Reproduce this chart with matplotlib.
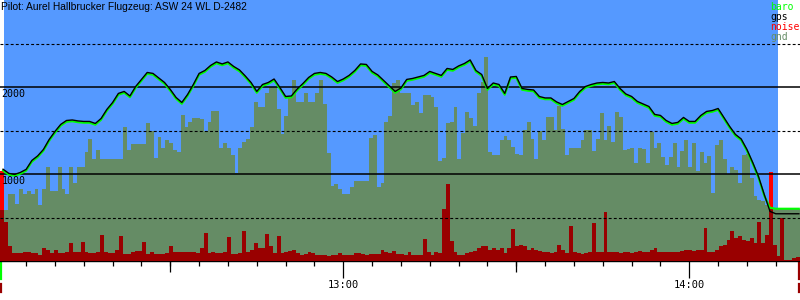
import numpy as np
import matplotlib
matplotlib.use("Agg")
import matplotlib.pyplot as plt
import matplotlib.ticker as mticker
from matplotlib.lines import Line2D

TITLE = "Pilot: Aurel Hallbrucker Flugzeug: ASW 24 WL D-2482"

# all times are minutes after 12:00
T_MIN, T_MAX = 0.47, 139.2
TAKEOFF, LANDING = 1.2, 135.4

# ground elevation and engine-noise level, one value per 40 s (from 12:00:28)
SAMPLE_START = 0.47
SAMPLE_STEP = 40 / 60
gnd = [
    590, 590, 775, 775, 650, 830, 775, 800, 775, 830,
    640, 830, 1083, 800, 800, 1083, 830, 775, 1083, 900,
    1083, 1083, 1250, 1400, 1175, 1279, 1175, 1175, 1175, 1175,
    1175, 1175, 1543, 1279, 1348, 1348, 1348, 1348, 1589, 1500,
    1187, 1428, 1300, 1394, 1360, 1279, 1250, 1681, 1543, 1600,
    1640, 1640, 1635, 1500, 1600, 1727, 1727, 1300, 1360, 1300,
    1220, 1015, 1300, 1370, 1400, 1543, 1830, 1775, 1775, 1935,
    2003, 2000, 1750, 1463, 1670, 1888, 2083, 1830, 1830, 1934,
    1830, 1830, 1934, 2083, 1800, 1244, 860, 888, 831, 773,
    773, 854, 923, 923, 923, 923, 1417, 1450, 854, 900,
    1600, 1670, 2050, 2083, 1934, 1934, 1934, 1796, 1830, 1700,
    1911, 1911, 1888, 1773, 1150, 1187, 1589, 1600, 1773, 1175,
    1474, 1715, 1640, 1550, 1934, 2060, 2350, 1250, 1221, 1221,
    1394, 1440, 1394, 1313, 1233, 1221, 1509, 1600, 1400, 1175,
    1500, 1394, 1658, 1658, 1509, 1784, 1520, 1221, 1302, 1302,
    1302, 1394, 1509, 1509, 1260, 1405, 1700, 1394, 1555, 1371,
    1715, 1658, 1280, 1290, 1302, 1129, 1302, 1290, 1129, 1486,
    1302, 1359, 1200, 1100, 1200, 1360, 1080, 1260, 1394, 1080,
    1359, 1038, 1250, 1130, 1210, 785, 1330, 1394, 1175, 1000,
    1085, 1050, 900, 1221, 1233, 957, 750, 704, 690, 647,
    600, 600, 600, 600, 600, 600, 600, 600, 600,
]
noise = [
    1040, 450, 168, 92, 92, 92, 107, 107, 92, 92,
    72, 155, 130, 92, 130, 92, 92, 107, 207, 107,
    107, 215, 100, 92, 92, 107, 300, 107, 92, 92,
    130, 290, 85, 85, 107, 115, 115, 215, 85, 107,
    85, 80, 80, 92, 172, 107, 100, 107, 100, 107,
    100, 92, 149, 325, 92, 100, 92, 92, 107, 271,
    85, 80, 92, 350, 107, 130, 207, 149, 149, 315,
    172, 92, 290, 92, 100, 110, 130, 92, 72, 80,
    107, 92, 72, 72, 64, 60, 64, 64, 92, 72,
    64, 72, 92, 92, 80, 72, 80, 85, 85, 130,
    107, 92, 110, 85, 80, 72, 107, 72, 72, 72,
    256, 107, 72, 100, 92, 600, 880, 226, 107, 64,
    72, 92, 107, 115, 149, 172, 168, 130, 149, 130,
    149, 92, 149, 372, 168, 186, 168, 130, 149, 130,
    115, 107, 100, 92, 107, 186, 130, 92, 400, 107,
    92, 80, 92, 107, 440, 107, 107, 565, 107, 100,
    100, 92, 107, 100, 92, 107, 115, 107, 107, 130,
    149, 107, 100, 107, 107, 107, 107, 115, 130, 130,
    115, 130, 130, 380, 107, 107, 130, 168, 186, 245,
    341, 264, 283, 245, 226, 264, 207, 452, 207, 302,
    1020, 186, 60, 490, 10, 10, 30, 48, 48,
]

# altitude traces, one value per minute from 12:01
ALT_START = 1.0
ALT_STEP = 1.0
baro = [
    1040, 992, 980, 1003, 1038, 1141, 1193, 1267, 1382, 1474,
    1555, 1600, 1606, 1595, 1589, 1589, 1566, 1623, 1727, 1807,
    1911, 1934, 1882, 1991, 2072, 2152, 2141, 2089, 2037, 1957,
    1865, 1807, 1899, 2014, 2141, 2175, 2233, 2273, 2250, 2273,
    2221, 2181, 2112, 2037, 1934, 2014, 2037, 2077, 1980, 1876,
    1882, 1962, 2025, 2095, 2141, 2152, 2141, 2100, 2048, 2077,
    2118, 2175, 2250, 2244, 2164, 2123, 2060, 1997, 1934, 1974,
    2072, 2083, 2100, 2118, 2164, 2141, 2118, 2198, 2187, 2227,
    2255, 2296, 2175, 2129, 1968, 2031, 2014, 1911, 2100, 2106,
    1968, 1957, 1951, 1876, 1859, 1859, 1813, 1784, 1819, 1853,
    1934, 1991, 2014, 2031, 2037, 2031, 2048, 1968, 1905, 1876,
    1819, 1790, 1761, 1670, 1658, 1600, 1566, 1578, 1635, 1589,
    1589, 1658, 1704, 1715, 1738, 1635, 1532, 1440, 1388, 1267,
    1118, 957, 750, 612, 601, 601, 601, 601, 601,
]
gps = [
    1055, 1007, 995, 1018, 1053, 1156, 1208, 1282, 1397, 1489,
    1570, 1615, 1621, 1610, 1604, 1604, 1581, 1638, 1742, 1822,
    1926, 1949, 1897, 2006, 2087, 2167, 2156, 2104, 2052, 1972,
    1880, 1822, 1914, 2029, 2156, 2190, 2248, 2288, 2265, 2288,
    2236, 2196, 2127, 2052, 1949, 2029, 2052, 2092, 1995, 1891,
    1897, 1977, 2040, 2110, 2156, 2167, 2156, 2115, 2063, 2092,
    2133, 2190, 2265, 2259, 2179, 2138, 2075, 2012, 1949, 1989,
    2087, 2098, 2115, 2133, 2179, 2156, 2133, 2213, 2202, 2242,
    2270, 2311, 2190, 2144, 1983, 2046, 2029, 1926, 2115, 2121,
    1983, 1972, 1966, 1891, 1874, 1874, 1828, 1799, 1834, 1868,
    1949, 2006, 2029, 2046, 2052, 2046, 2063, 1983, 1920, 1891,
    1834, 1805, 1776, 1685, 1673, 1615, 1581, 1593, 1650, 1604,
    1604, 1673, 1719, 1730, 1753, 1650, 1547, 1455, 1403, 1282,
    1133, 972, 765, 570, 543, 543, 543, 543, 543,
]

SOLID_LEVELS = [1000, 2000]
DASHED_LEVELS = [500, 1500, 2500]
HOUR_TICKS = [60, 120]
HOUR_LABELS = ["13:00", "14:00"]
HALF_HOUR_TICKS = [30, 90]

LEGEND = ["baro", "gps", "noise", "gnd"]

SKY = "#5599ff"
GROUND = "#658c65"
NOISE_HI = "#ff0000"
NOISE_LO = "#990000"
BARO = "#00ff00"
LEGEND_COLORS = [BARO, "black", NOISE_HI, GROUND]

MONO = "DejaVu Sans Mono"

# ---------------------------------------------------------------- figure
fig = plt.figure(figsize=(8, 3), dpi=100)
ax = fig.add_axes([0, 0.13, 1, 0.87])
ax.set_xlim(T_MIN, T_MAX)
ax.set_ylim(0, 3000)

ax.axvspan(TAKEOFF, LANDING, color=SKY, lw=0, zorder=0)

gnd_arr = np.array(gnd, dtype=float)
noise_arr = np.array(noise, dtype=float)
edges = SAMPLE_START + SAMPLE_STEP * np.arange(len(gnd) + 1)

# noise sticking out above the ground is bright red, the part inside it dark red
ax.stairs(noise_arr, edges, fill=True, color=NOISE_HI, lw=0, zorder=1)
ax.stairs(gnd_arr, edges, fill=True, color=GROUND, lw=0, zorder=2)
ax.stairs(np.minimum(noise_arr, gnd_arr), edges, fill=True, color=NOISE_LO, lw=0, zorder=3)

for lvl in SOLID_LEVELS:
    ax.axhline(lvl, color="black", lw=1.1, zorder=4)
    ax.annotate(str(lvl), xy=(0, lvl), xycoords=ax.get_yaxis_transform(),
                xytext=(1, -1.5), textcoords="offset points", va="top", ha="left",
                fontsize=7.2, family=MONO, zorder=6)
for lvl in DASHED_LEVELS:
    ax.axhline(lvl, color="black", lw=0.8, linestyle=(0, (2.6, 2.0)), zorder=4)

t_alt = ALT_START + ALT_STEP * np.arange(len(baro))
ax.plot(t_alt, baro, color=BARO, lw=1.5, zorder=5)
ax.plot(t_alt, gps, color="black", lw=1.0, zorder=5)

# x axis: 5 min minor ticks, half hours a bit longer, full hours labelled
for side in ["top", "left", "right"]:
    ax.spines[side].set_visible(False)
ax.spines["bottom"].set_linewidth(1.0)
ax.set_yticks([])
ax.set_xticks(HOUR_TICKS)
ax.set_xticklabels(HOUR_LABELS, family=MONO, fontsize=7.5)
ax.xaxis.set_minor_locator(mticker.MultipleLocator(5))
ax.tick_params(axis="x", which="major", length=12.2, width=0.9, pad=1.5)
ax.tick_params(axis="x", which="minor", length=3.6, width=0.9)

sec = ax.secondary_xaxis("bottom")
sec.set_xticks(HALF_HOUR_TICKS)
sec.set_xticklabels([])
sec.tick_params(axis="x", length=7.9, width=0.9)
sec.spines["bottom"].set_visible(False)

# takeoff / landing markers under the time axis
for x, col, y0, y1 in [(0.001, BARO, -0.003, -0.07), (0.001, NOISE_LO, -0.088, -0.118),
                       (0.999, NOISE_LO, -0.003, -0.07), (0.999, NOISE_LO, -0.088, -0.118)]:
    ax.add_line(Line2D([x, x], [y0, y1], transform=ax.transAxes, color=col,
                       lw=1.6, clip_on=False))

fig.text(0.001, 0.993, TITLE, ha="left", va="top", fontsize=7.4,
         family="Liberation Sans", color="black")

for i, (name, col) in enumerate(zip(LEGEND, LEGEND_COLORS)):
    fig.text(770 / 800, 1 - (9.5 + 10.2 * i) / 300, name, ha="left", va="baseline",
             fontsize=7, family=MONO, color=col)

fig.savefig("out.png", dpi=100)
